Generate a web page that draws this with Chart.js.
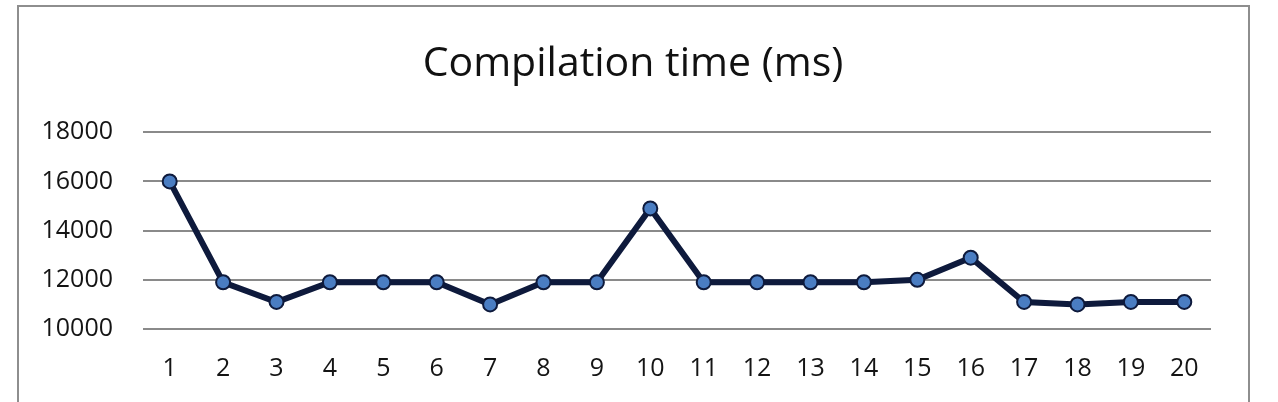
<!DOCTYPE html>
<html>
<head>
<meta charset="utf-8">
<title>Compilation time (ms)</title>
<script src="https://cdn.jsdelivr.net/npm/chart.js@4"></script>
<style>
  html, body { margin: 0; padding: 0; background: #fff; overflow: hidden; }
  #wrap { position: relative; width: 1278px; height: 402px; }
  /* grauer Rahmen wie im Excel-Screenshot, unten abgeschnitten */
  #frame {
    position: absolute; left: 17px; top: 5px; width: 1233px; height: 500px;
    box-sizing: border-box; border: 2px solid #8e8e8e; pointer-events: none;
  }
  canvas { position: absolute; left: 0; top: 0; }
</style>
</head>
<body>
<div id="wrap">
  <canvas id="chart" width="1278" height="402"></canvas>
  <div id="frame"></div>
</div>
<script>
  // Messläufe 1..20
  const runs = ['1', '2', '3', '4', '5', '6', '7', '8', '9', '10',
                '11', '12', '13', '14', '15', '16', '17', '18', '19', '20'];
  // Kompilierzeit in ms
  const compileMs = [16000, 11900, 11100, 11900, 11900, 11900, 11000, 11900, 11900, 14900,
                     11900, 11900, 11900, 11900, 12000, 12900, 11100, 11000, 11100, 11100];
  const yTicks = [10000, 12000, 14000, 16000, 18000];

  const LINE = '#0e1a3c';
  const MARKER = '#4a7dc2';
  const GRID = '#8a8a8a';
  const INK = '#141414';
  const FONT = '"Open Sans", "Noto Sans", sans-serif';

  // Titel sitzt im Original über der Rahmenmitte, nicht über der Plotfläche.
  const TITLE_CENTER_X = 633;
  const centerTitle = {
    id: 'centerTitle',
    afterLayout(chart) {
      const t = chart.titleBlock;
      if (!t) return;
      const half = (t.right - t.left) / 2;
      t.left = TITLE_CENTER_X - half;
      t.right = TITLE_CENTER_X + half;
    },
  };

  new Chart(document.getElementById('chart'), {
    type: 'line',
    data: {
      labels: runs,
      datasets: [{
        data: compileMs,
        borderColor: LINE,
        borderWidth: 6,
        pointRadius: 7,
        pointBackgroundColor: MARKER,
        pointBorderColor: LINE,
        pointBorderWidth: 2,
        tension: 0,
      }],
    },
    options: {
      responsive: false,
      animation: false,
      layout: { padding: { left: 20, right: 67, top: 0, bottom: 0 } },
      plugins: {
        legend: { display: false },
        tooltip: { enabled: false },
        title: {
          display: true,
          text: 'Compilation time (ms)',
          color: '#111',
          font: { family: FONT, size: 41, weight: 'normal', lineHeight: 1.2 },
          padding: { top: 40, bottom: 43 },
        },
      },
      scales: {
        x: {
          offset: true,
          grid: { display: false, drawTicks: false },
          border: { display: false },
          ticks: { color: INK, padding: 25, maxRotation: 0, autoSkip: false,
                   font: { family: FONT, size: 25 } },
          afterFit: (scale) => { scale.height = 73; },
        },
        y: {
          min: 10000,
          max: 18000,
          afterBuildTicks: (scale) => { scale.ticks = yTicks.map((v) => ({ value: v })); },
          grid: { color: GRID, lineWidth: 2, drawTicks: false },
          border: { display: false },
          ticks: { color: INK, padding: 30, font: { family: FONT, size: 25 },
                   callback: (value) => String(value) },
          afterFit: (scale) => { scale.width = 123; },
        },
      },
    },
    plugins: [centerTitle],
  });
</script>
</body>
</html>
